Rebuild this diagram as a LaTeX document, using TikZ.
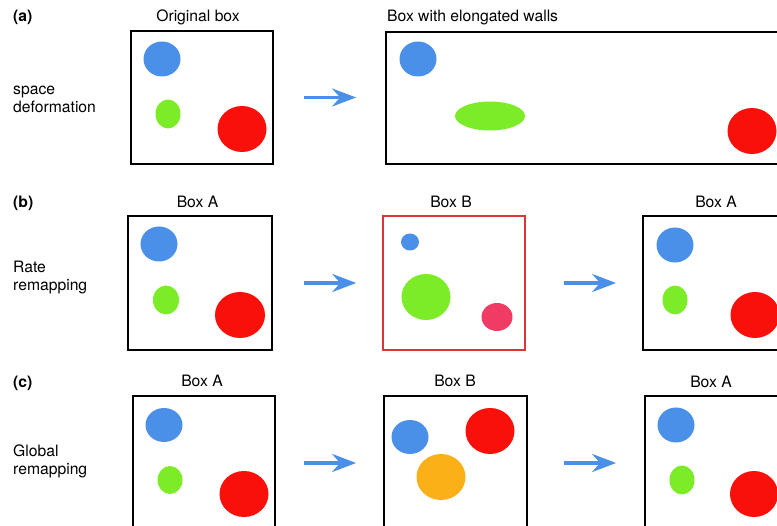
\documentclass[tikz,border=0pt]{standalone}
\usepackage{fontspec}
\setmainfont{TeX Gyre Heros}
\usepackage{tikz}
\usetikzlibrary{arrows.meta,positioning}

\definecolor{dotblue}{RGB}{74,144,232}
\definecolor{dotgreen}{RGB}{124,236,40}
\definecolor{dotred}{RGB}{250,16,10}
\definecolor{dotpink}{RGB}{240,60,100}
\definecolor{dotorange}{RGB}{252,176,24}
\definecolor{boxred}{RGB}{222,52,52}

\begin{document}
\begin{tikzpicture}[x=1pt, y=-1pt,
      every node/.style={font=\fontsize{15.7}{18}\selectfont, inner sep=0pt},
      box/.style={rectangle, draw, line width=1.8pt, minimum height=133pt},
      ttl/.style={anchor=base},
      lbl/.style={align=left, anchor=base west},
      tag/.style={anchor=base west, font=\fontsize{15.7}{18}\selectfont\bfseries},
      arr/.style={draw=dotblue, line width=3.6pt,
      -{Stealth[length=24pt, width=18pt, inset=8pt]}}]
    \useasboundingbox (0,0) rectangle (777,526);
    \clip (0,0) rectangle (777,526);

    % (a) space deformation
    \node[tag] (taga) at (13,22) {(a)};
    \node[lbl] (lbla) at (13,113) {space\\deformation};
    \node[box, minimum width=142pt] (a1) at (202,97.5) {};
    \node[box, minimum width=414pt, minimum height=132pt] (a2) at (593,98) {};
    \node[ttl] (ta1) at (198,22) {Original box};
    \node[ttl, anchor=base west] (ta2) at (387,22) {Box with elongated walls};
    \fill[dotblue] (162,59) ellipse (18.5pt and 17.5pt);
    \fill[dotgreen] (168,114) ellipse (12.5pt and 14.5pt);
    \fill[dotred] (242,129) ellipse (24.5pt and 23pt);
    \fill[dotblue] (418,59) ellipse (18.5pt and 17.5pt);
    \fill[dotgreen] (490,116) ellipse (35pt and 14.5pt);
    \fill[dotred] (752,131) ellipse (24.5pt and 23pt);
    \draw[arr, shorten <=30pt, shorten >=29pt] (a1.east) -- (a1.east -| a2.west);

    % (b) rate remapping
    \node[tag] (tagb) at (13,208) {(b)};
    \node[lbl] (lblb) at (13,291) {Rate\\remapping};
    \node[box, minimum width=144pt, minimum height=134pt] (b1) at (200,283) {};
    \node[box, draw=boxred, line width=1.5pt, minimum width=142pt, minimum height=134pt] (b2) at (454,283) {};
    \node[box, minimum width=142pt, minimum height=134pt] (b3) at (714,283) {};
    \node[ttl] (tb1) at (197.5,208) {Box A};
    \node[ttl] (tb2) at (451,208) {Box B};
    \node[ttl] (tb3) at (716,208) {Box A};
    \fill[dotblue] (159,244) ellipse (18.5pt and 17.5pt);
    \fill[dotgreen] (166,300) ellipse (13pt and 14.5pt);
    \fill[dotred] (240,315) ellipse (25pt and 23pt);
    \fill[dotblue] (410,242) ellipse (9pt and 8.5pt);
    \fill[dotgreen] (426,297) ellipse (24.5pt and 23pt);
    \fill[dotpink] (497,317) ellipse (15.5pt and 14pt);
    \fill[dotblue] (675,245) ellipse (18.5pt and 17.5pt);
    \fill[dotgreen] (675,300) ellipse (12.5pt and 14.5pt);
    \fill[dotred] (755,315) ellipse (24.5pt and 23pt);
    \draw[arr, shorten <=31pt, shorten >=26pt] (b1.east) -- (b2.west);
    \draw[arr, shorten <=38pt, shorten >=26pt] (b2.east) -- (b3.west);

    % (c) global remapping
    \node[tag] (tagc) at (13,388) {(c)};
    \node[lbl] (lblc) at (13,475) {Global\\remapping};
    \node[box, minimum width=142pt, minimum height=134pt] (c1) at (204,463) {};
    \node[box, minimum width=143pt, minimum height=134pt] (c2) at (455.5,463) {};
    \node[box, minimum width=142pt, minimum height=134pt] (c3) at (716,463) {};
    \node[ttl] (tc1) at (202,387) {Box A};
    \node[ttl] (tc2) at (455,387) {Box B};
    \node[ttl] (tc3) at (711,388) {Box A};
    \fill[dotblue] (164,425) ellipse (18.5pt and 17pt);
    \fill[dotgreen] (170,480) ellipse (12.5pt and 14pt);
    \fill[dotred] (244,494) ellipse (24.5pt and 23pt);
    \fill[dotblue] (410,437) ellipse (18.5pt and 17pt);
    \fill[dotred] (490,431) ellipse (24.5pt and 23pt);
    \fill[dotorange] (441,477) ellipse (24.5pt and 23pt);
    \fill[dotblue] (676,425) ellipse (18.5pt and 17.5pt);
    \fill[dotgreen] (682,480) ellipse (12.5pt and 14.5pt);
    \fill[dotred] (754,494) ellipse (24pt and 23pt);
    \draw[arr, shorten <=28pt, shorten >=27pt] (c1.east) -- (c2.west);
    \draw[arr, shorten <=36pt, shorten >=28pt] (c2.east) -- (c3.west);
  \end{tikzpicture}
\end{document}
